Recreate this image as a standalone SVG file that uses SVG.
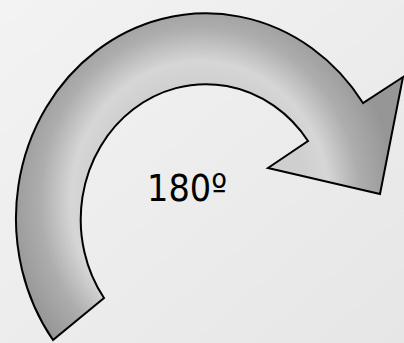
<svg xmlns="http://www.w3.org/2000/svg" width="404" height="343" viewBox="0 0 404 343">
<defs>
<linearGradient id="bg" x1="0" y1="0" x2="1" y2="1">
<stop offset="0" stop-color="#f3f3f3"/>
<stop offset="1" stop-color="#e6e6e6"/>
</linearGradient>
<radialGradient id="band" gradientUnits="userSpaceOnUse" cx="200" cy="200" r="210" gradientTransform="translate(200 200) scale(0.93 1) translate(-200 -200)">
<stop offset="0.55" stop-color="#cfcfcf"/>
<stop offset="0.66" stop-color="#d6d6d6"/>
<stop offset="0.82" stop-color="#adadad"/>
<stop offset="1" stop-color="#969696"/>
</radialGradient>
<style>
.arrow{fill:url(#band);stroke:#000;stroke-width:2;stroke-linejoin:miter}
.lbl{font-family:"DejaVu Sans",sans-serif;font-size:38px;fill:#000}
</style>
</defs>
<rect width="404" height="343" fill="url(#bg)"/>
<g id="arrow">
<path class="arrow" d="M53,340 A190,205 0 1 1 363,103 L403,77 L380,194 L268,168 L308,141 A125,135 0 1 0 104,298 Z"/>
</g>
<g id="label">
<text class="lbl" x="147" y="201" textLength="80" lengthAdjust="spacingAndGlyphs">180º</text>
</g>
</svg>
